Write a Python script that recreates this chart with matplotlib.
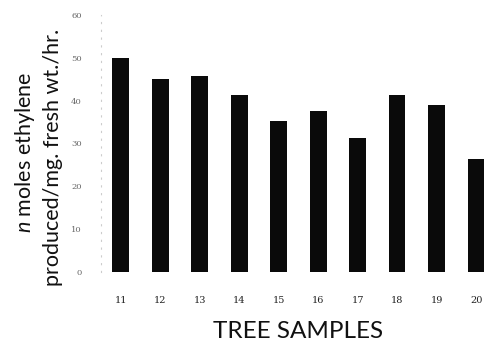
import matplotlib
matplotlib.use("Agg")
import matplotlib.pyplot as plt

plt.rcParams["mathtext.fontset"] = "custom"
plt.rcParams["mathtext.it"] = "Lato:italic"
plt.rcParams["mathtext.rm"] = "Lato"

samples = ["11", "12", "13", "14", "15", "16", "17", "18", "19", "20"]
ethylene = [50, 45, 45.8, 41.4, 35.3, 37.6, 31.3, 41.4, 39, 26.4]
y_ticks = [0, 10, 20, 30, 40, 50, 60]

fig = plt.figure(figsize=(4.9, 3.47), dpi=100)
ax = fig.add_axes([101 / 490, 1 - 272 / 347, (490 - 101) / 490, (272 - 15) / 347])

x = list(range(len(samples)))
ax.bar(x, ethylene, width=0.42, color="#0a0a0a", zorder=2)

ax.set_xlim(-0.5, 9.35)
ax.set_ylim(0, 60)
ax.set_yticks(y_ticks)
ax.set_yticklabels([str(v) for v in y_ticks], family="DejaVu Serif",
                   fontsize=6, color="#666666")
ax.set_xticks(x)
ax.set_xticklabels(samples, family="DejaVu Serif", fontsize=7, color="#222222")
ax.tick_params(axis="y", length=0, pad=14)
ax.tick_params(axis="x", length=0, pad=17)

for side in ["top", "right", "bottom"]:
    ax.spines[side].set_visible(False)
ax.spines["left"].set_color("#cccccc")
ax.spines["left"].set_linestyle((0, (1, 6)))
ax.spines["left"].set_linewidth(0.8)

fig.text(298 / 490, 1 - 332 / 347, "TREE SAMPLES", family="Lato",
         fontsize=17.5, ha="center", va="center", color="#111111")
fig.text(25 / 490, 1 - 152 / 347, r"$\it{n}$ moles ethylene", family="Lato",
         fontsize=15.5, rotation=90, ha="center", va="center",
         color="#111111")
fig.text(53 / 490, 1 - 157 / 347, "produced/mg. fresh wt./hr.", family="Lato",
         fontsize=15.5, rotation=90, ha="center", va="center", color="#111111")

fig.savefig("out.png", dpi=100)
